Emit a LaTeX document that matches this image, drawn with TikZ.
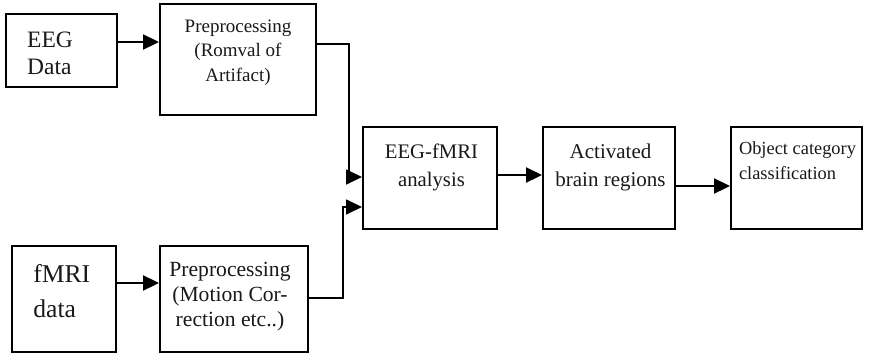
\documentclass[tikz,border=0pt]{standalone}
\usepackage{fontspec}
\setmainfont{Liberation Serif}
\usetikzlibrary{arrows.meta}
\begin{document}
\begin{tikzpicture}[x=1pt,y=-1pt,
  box/.style={draw=black,line width=2pt,inner sep=0pt,fill=white},
  txt/.style={inner sep=0pt,text=black!90},
  arr/.style={line width=2.3pt,-{Triangle[length=16pt,width=15pt]}},
  arrthin/.style={line width=1.8pt,-{Triangle[length=16pt,width=15pt]}}]
\useasboundingbox (0,0) rectangle (876,354);
% boxes
\node[box,minimum width=111pt,minimum height=73pt] (eeg) at (61.5,50.5) {};
\node[box,minimum width=156pt,minimum height=111pt] (pre1) at (238,59.5) {};
\node[box,minimum width=104pt,minimum height=106pt] (fmri) at (64,299) {};
\node[box,minimum width=148pt,minimum height=106pt] (pre2) at (234,299) {};
\node[box,minimum width=134pt,minimum height=102pt] (ana) at (430,178) {};
\node[box,minimum width=132pt,minimum height=102pt] (act) at (609,178) {};
\node[box,minimum width=131pt,minimum height=102pt] (obj) at (796.5,178) {};
% texts
\node[txt,align=left,font=\fontsize{23.5}{27}\selectfont] (eegt) at (50,53.7) {EEG\\Data};
\node[txt,align=center,font=\fontsize{19}{24.5}\selectfont] (pre1t) at (238,52.7) {Preprocessing\\(Romval of\\Artifact)};
\node[txt,align=left,font=\fontsize{25.6}{35}\selectfont] (fmrit) at (61.8,290.7) {fMRI\\data};
\node[txt,align=center,font=\fontsize{21.6}{25}\selectfont] (pre2t) at (230,296.5) {Preprocessing\\(Motion Cor-\\rection etc..)};
\node[txt,align=center,font=\fontsize{20.7}{28}\selectfont] (anat) at (431.5,167.2) {EEG-fMRI\\analysis};
\node[txt,align=center,font=\fontsize{21}{28}\selectfont] (actt) at (610.5,167.1) {Activated\\brain regions};
\node[txt,align=left,font=\fontsize{18.4}{25}\selectfont] (objt) at (797.5,161.2) {Object category\\classification};
% connectors
\coordinate (k1) at (349,177);
\coordinate (k2) at (343,207);
\draw[arr] (eeg.east |- 0,42) -- (pre1.west |- 0,42);
\draw[arr] (fmri.east |- 0,283) -- (pre2.west |- 0,283);
\draw[arrthin] (pre1.east |- 0,44) -| (k1) -- (ana.west |- k1);
\draw[arrthin] (pre2.east |- 0,298) -| (k2) -- (ana.west |- k2);
\draw[arr] (ana.east |- 0,175) -- (act.west |- 0,175);
\draw[arr] (act.east |- 0,186) -- (obj.west |- 0,186);
\end{tikzpicture}
\end{document}
